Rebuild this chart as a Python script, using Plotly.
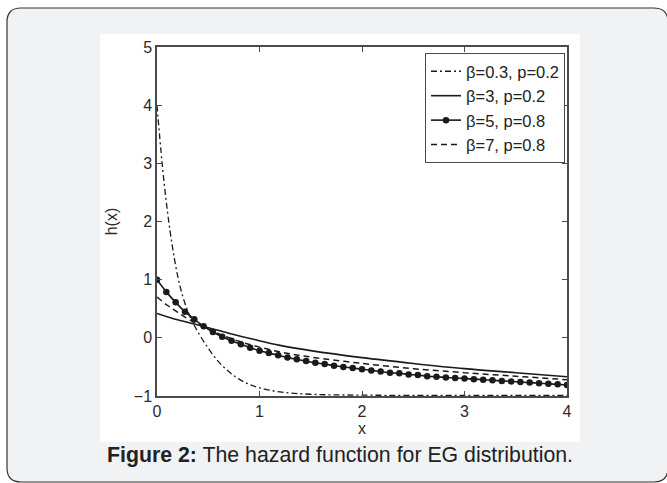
import plotly.graph_objects as go

# ---------------- data ----------------
x_b03 = [0, 0.05, 0.1, 0.15, 0.2, 0.25, 0.3, 0.35, 0.4, 0.5, 0.6, 0.7, 0.8, 0.9, 1.0, 1.2, 1.5, 2.0, 3.0, 4.0]
h_b03 = [4.0, 3.0, 2.2, 1.57, 1.08, 0.72, 0.46, 0.26, 0.10, -0.18, -0.41, -0.58, -0.71, -0.8, -0.86, -0.93, -0.97, -0.985, -0.99, -0.99]

x_b3 = [0, 0.2, 0.45, 0.7, 0.95, 1.2, 1.5, 2.0, 2.5, 3.0, 3.5, 4.0]
h_b3 = [0.42, 0.31, 0.2, 0.08, -0.03, -0.13, -0.22, -0.34, -0.44, -0.53, -0.60, -0.67]

x_b5 = [0.000, 0.091, 0.182, 0.273, 0.364, 0.455, 0.545, 0.636, 0.727, 0.818,
        0.909, 1.000, 1.091, 1.182, 1.273, 1.364, 1.455, 1.545, 1.636, 1.727,
        1.818, 1.909, 2.000, 2.091, 2.182, 2.273, 2.364, 2.455, 2.545, 2.636,
        2.727, 2.818, 2.909, 3.000, 3.091, 3.182, 3.273, 3.364, 3.455, 3.545,
        3.636, 3.727, 3.818, 3.909, 4.000]
h_b5 = [1.00, 0.79, 0.61, 0.45, 0.32, 0.20, 0.10, 0.02, -0.05, -0.11,
        -0.17, -0.22, -0.26, -0.30, -0.34, -0.37, -0.40, -0.43, -0.45, -0.48,
        -0.50, -0.52, -0.54, -0.56, -0.58, -0.60, -0.61, -0.63, -0.64, -0.66,
        -0.67, -0.68, -0.69, -0.70, -0.71, -0.72, -0.73, -0.74, -0.75, -0.76,
        -0.77, -0.78, -0.79, -0.80, -0.81]

x_b7 = [0, 0.1, 0.2, 0.3, 0.45, 0.6, 0.8, 1.0, 1.25, 1.5, 2.0, 2.5, 3.0, 3.5, 4.0]
h_b7 = [0.70, 0.56, 0.44, 0.33, 0.19, 0.07, -0.06, -0.16, -0.26, -0.33, -0.44, -0.53, -0.60, -0.66, -0.72]

legend_names = ["β=0.3, p=0.2", "β=3, p=0.2", "β=5, p=0.8", "β=7, p=0.8"]
x_ticks = [0, 1, 2, 3, 4]
y_ticks = [-1, 0, 1, 2, 3, 4, 5]
caption = "<b>Figure 2:</b> The hazard function for EG distribution."

# ---------------- figure ----------------
W, H = 667, 483
L, R, T, B = 157, 100, 47, 87
pw, ph = W - L - R, H - T - B

def px(xp):
    return (xp - L) / pw

def py(yp):
    return (H - B - yp) / ph

ink = "#1a1a1a"
font_fam = "Liberation Sans, Arial, Helvetica"
fig = go.Figure()
fig.add_trace(go.Scatter(x=x_b03, y=h_b03, mode="lines", name=legend_names[0],
                         line=dict(color=ink, width=1.3, dash="6px,3px,2px,3px", shape="spline")))
fig.add_trace(go.Scatter(x=x_b3, y=h_b3, mode="lines", name=legend_names[1],
                         line=dict(color=ink, width=1.6, shape="spline")))
fig.add_trace(go.Scatter(x=x_b5, y=h_b5, mode="lines+markers", name=legend_names[2],
                         line=dict(color=ink, width=1.6, shape="spline"),
                         marker=dict(color=ink, size=6.5)))
fig.add_trace(go.Scatter(x=x_b7, y=h_b7, mode="lines", name=legend_names[3],
                         line=dict(color=ink, width=1.5, dash="6px,4px", shape="spline")))

axis_common = dict(showline=True, linecolor="#4a4a4a", linewidth=1.5, mirror="ticks",
                   ticks="inside", ticklen=5, tickcolor="#4a4a4a", tickwidth=1,
                   showgrid=False, zeroline=False,
                   tickfont=dict(family=font_fam, size=16, color="#2a2a2a"))
fig.update_xaxes(range=[0, 4], tickvals=x_ticks, title=dict(text="x", standoff=2,
                 font=dict(family=font_fam, size=16, color="#2a2a2a")), **axis_common)
fig.update_yaxes(range=[-1, 5], tickvals=y_ticks, title=dict(text="h(x)", standoff=12,
                 font=dict(family=font_fam, size=16, color="#2a2a2a")), **axis_common)

r = 14
x0, x1, y0, y1 = 7, 668, 8, 482
def P(a, b):
    return f"{px(a):.5f},{py(b):.5f}"
card = (f"M {P(x0 + r, y0)} L {P(x1 - r, y0)} Q {P(x1, y0)} {P(x1, y0 + r)} "
        f"L {P(x1, y1 - r)} Q {P(x1, y1)} {P(x1 - r, y1)} L {P(x0 + r, y1)} "
        f"Q {P(x0, y1)} {P(x0, y1 - r)} L {P(x0, y0 + r)} Q {P(x0, y0)} {P(x0 + r, y0)} Z")

fig.update_layout(
    width=W, height=H,
    margin=dict(l=L, r=R, t=T, b=B, autoexpand=False),
    paper_bgcolor="white", plot_bgcolor="white",
    showlegend=True,
    legend=dict(x=px(565), xanchor="right", y=py(53), yanchor="top",
                bgcolor="white", bordercolor="#4a4a4a", borderwidth=1,
                font=dict(family=font_fam, size=16.5, color="#222222"),
                tracegroupgap=0, itemwidth=30),
    shapes=[
        dict(type="path", path=card, xref="paper", yref="paper", layer="below",
             line=dict(color="#333333", width=1.2), fillcolor="#f1f2f4"),
        dict(type="rect", xref="paper", yref="paper", layer="below",
             x0=px(100), x1=px(580), y0=py(442), y1=py(34),
             line=dict(width=0), fillcolor="white"),
    ],
    annotations=[
        dict(text=caption, xref="paper", yref="paper", x=px(340), y=py(455),
             xanchor="center", yanchor="middle", showarrow=False,
             font=dict(family=font_fam, size=21.3, color="#222222")),
    ],
)

fig.write_html("out.html", config={"displayModeBar": False},
               post_script="document.body.style.margin='0';document.body.style.overflow='hidden';")
